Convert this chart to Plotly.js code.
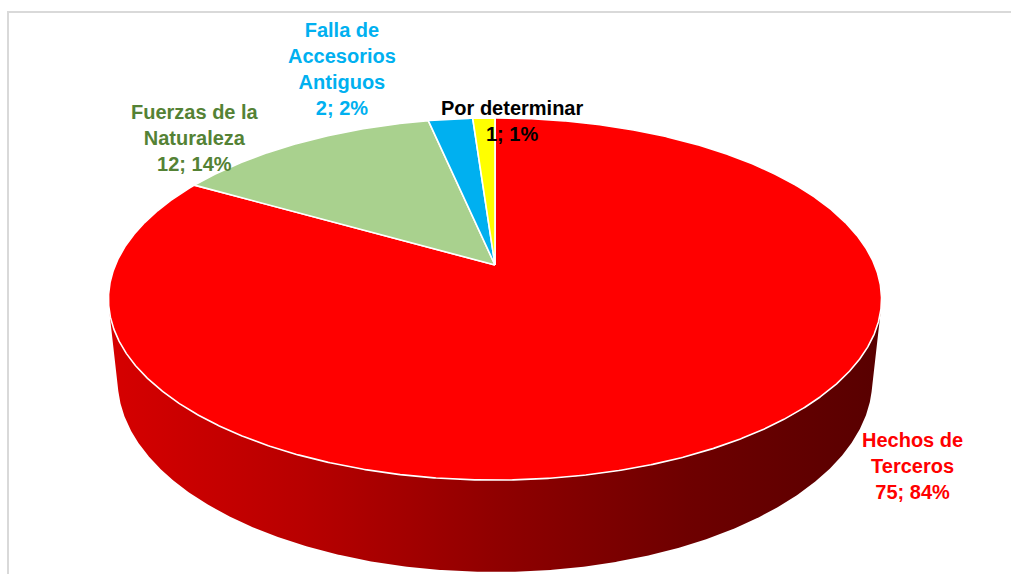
<!DOCTYPE html>
<html>
<head>
<meta charset="utf-8">
<script src="https://cdn.plot.ly/plotly-3.0.1.min.js"></script>
<style>html,body{margin:0;padding:0;background:#fff;}#chart{width:1011px;height:574px;}</style>
</head>
<body>
<div id="chart"></div>
<script>
// ---- data ----
const categories = ["Hechos de<br>Terceros", "Fuerzas de la<br>Naturaleza", "Falla de<br>Accesorios<br>Antiguos", "Por determinar"];
const values = [75, 12, 2, 1];
const percents = [84, 14, 2, 1];
const sliceColors = ["#ff0000", "#a9d18e", "#00b0f0", "#ffff00"];
const labelColors = ["#ff0000", "#548235", "#00b0f0", "#000000"];

// ---- 3D projection of the pie (pixel-space axes) ----
const CX = 495, CY = 265;          // projected pie centre
const D = 4.728, F = 1795;         // camera distance / focal length (radius = 1)
const PHI = 27.4 * Math.PI / 180;  // tilt
const H = 0.243;                   // pie thickness
const sP = Math.sin(PHI), cP = Math.cos(PHI);
function proj(theta, r, z) {
  const u = r * Math.sin(theta), v = r * Math.cos(theta);
  const yc = v * sP + z * cP;
  const d = D + v * cP - z * sP;
  return [CX + F * u / d, CY - F * yc / d];
}
const deg = Math.PI / 180;
const total = values.reduce((a, b) => a + b, 0);

const traces = [];
// side wall (visible front part)
const k = 1 / (D * cP);
const tA = Math.acos(-k), tB = 2 * Math.PI - Math.acos(-k);
const sx = [], sy = [];
for (let t = tA; t <= tB + 1e-9; t += 0.25 * deg) { const p = proj(t, 1, 0); sx.push(p[0]); sy.push(p[1]); }
for (let t = tB; t >= tA - 1e-9; t -= 0.25 * deg) { const p = proj(t, 1, -H); sx.push(p[0]); sy.push(p[1]); }
sx.push(sx[0]); sy.push(sy[0]);
traces.push({
  type: "scatter", mode: "lines", x: sx, y: sy, fill: "toself",
  fillcolor: "#a00000",
  fillgradient: { type: "horizontal", colorscale: [[0, "rgb(214,0,0)"], [0.25, "rgb(184,0,0)"], [0.5, "rgb(144,0,0)"], [0.75, "rgb(110,0,0)"], [1, "rgb(88,0,0)"]] },
  line: { width: 0 }, hoverinfo: "skip", showlegend: false
});

// top face slices
let acc = 0;
values.forEach((v, i) => {
  const a0 = acc / total * 2 * Math.PI; acc += v;
  const a1 = acc / total * 2 * Math.PI;
  const xs = [], ys = [];
  const c = proj(0, 0, 0); xs.push(c[0]); ys.push(c[1]);
  const n = Math.max(4, Math.ceil((a1 - a0) / (0.25 * deg)));
  for (let j = 0; j <= n; j++) { const p = proj(a0 + (a1 - a0) * j / n, 1, 0); xs.push(p[0]); ys.push(p[1]); }
  xs.push(c[0]); ys.push(c[1]);
  traces.push({
    type: "scatter", mode: "lines", x: xs, y: ys, fill: "toself",
    fillcolor: sliceColors[i], line: { color: "#ffffff", width: 1.6 },
    hoverinfo: "skip", showlegend: false
  });
});

// label placement (pixel positions chosen to match the source chart)
const labelPos = [[912, 466], [195, 138], [342, 69], [512, 121]];
const annotations = categories.map((c, i) => ({
  x: labelPos[i][0], y: labelPos[i][1], xref: "x", yref: "y",
  text: c + "<br>" + values[i] + "; " + percents[i] + "%",
  showarrow: false, xanchor: "center", yanchor: "middle", align: "center",
  font: { family: "Arial, Liberation Sans, sans-serif", size: 20, color: labelColors[i], weight: "bold" }
}));

const layout = {
  width: 1011, height: 574,
  margin: { l: 0, r: 0, t: 0, b: 0 },
  paper_bgcolor: "#ffffff", plot_bgcolor: "#ffffff",
  xaxis: { range: [0, 1011], visible: false, fixedrange: true },
  yaxis: { range: [574, 0], visible: false, fixedrange: true },
  showlegend: false,
  annotations: annotations,
  shapes: [{ type: "rect", xref: "paper", yref: "paper", x0: 8 / 1011, x1: 1.01, y0: -0.01, y1: 1 - 12 / 574,
             line: { color: "#d9d9d9", width: 2 }, fillcolor: "rgba(0,0,0,0)", layer: "below" }]
};
Plotly.newPlot("chart", traces, layout, { staticPlot: true, displayModeBar: false });
</script>
</body>
</html>
